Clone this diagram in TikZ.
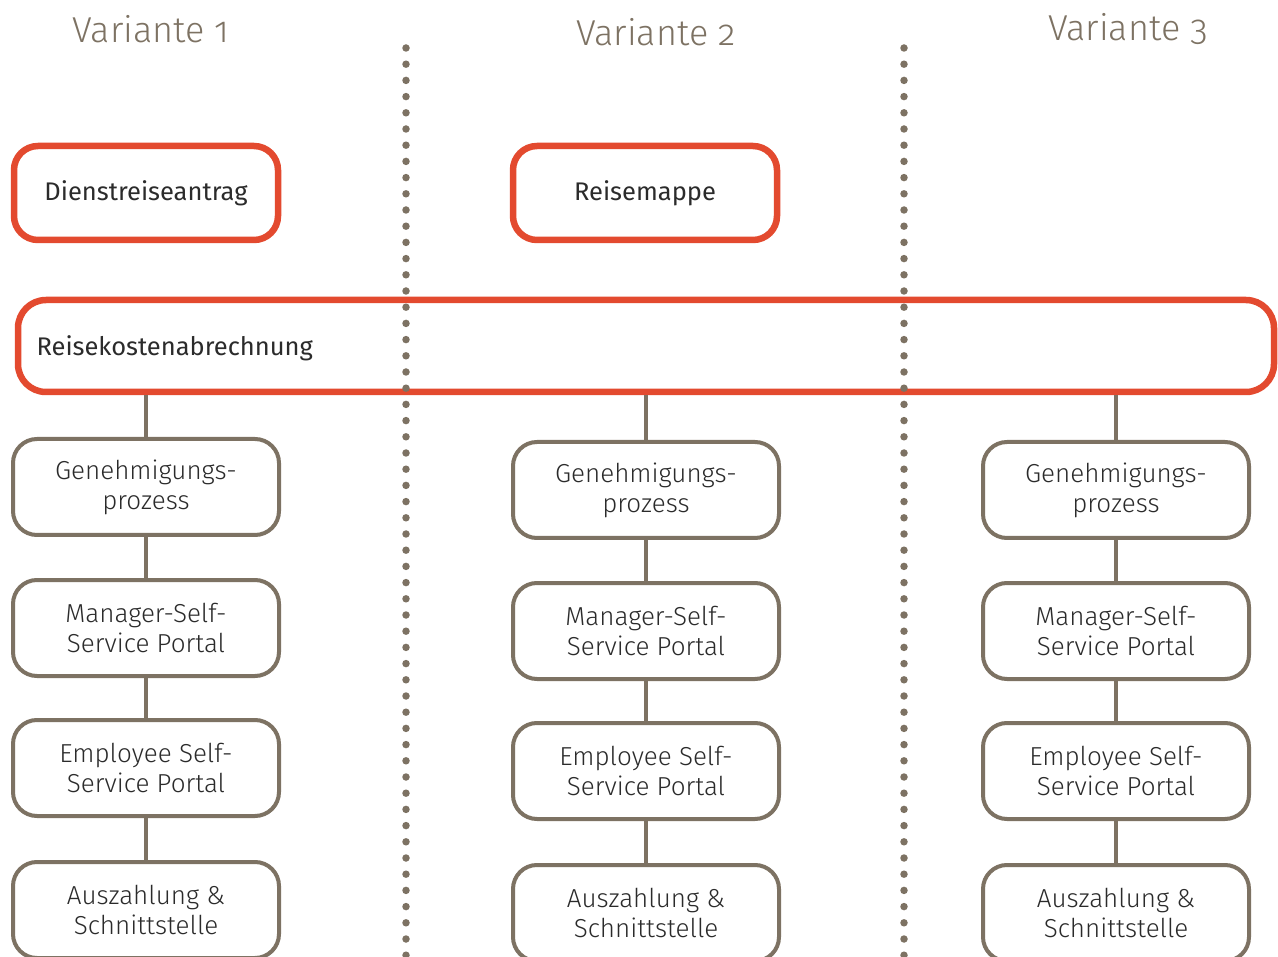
\documentclass[tikz,border=0pt]{standalone}
\usepackage{fontspec}
\setmainfont{Fira Sans}[Numbers=OldStyle]
\newfontfamily\lightfont{Fira Sans Light}[Numbers=OldStyle]
\definecolor{taupe}{HTML}{7D7263}
\definecolor{redb}{HTML}{E34A2F}
\definecolor{txt}{HTML}{2B2B2B}
\tikzset{
  head/.style={text=taupe, font=\fontsize{36}{40}\selectfont\lightfont},
  redbox/.style={draw=redb, line width=6.5pt, rounded corners=24pt, fill=white, text=txt, font=\fontsize{25.5}{28}\selectfont},
  graybox/.style={draw=taupe, line width=4pt, rounded corners=24pt, fill=white, text=txt, minimum width=266pt, minimum height=96pt, align=center, font=\fontsize{26}{30}\selectfont\lightfont},
  conn/.style={draw=taupe, line width=4pt},
  dots/.style={draw=taupe, line width=7.5pt, line cap=round, dash pattern=on 0pt off 16.2pt}
}
\begin{document}
\begin{tikzpicture}[x=1pt,y=-1pt]
\useasboundingbox (0,0) rectangle (1278,957);
\clip (0,0) rectangle (1278,957);
% headers
\node[head] (h1) at (151,29) {Variante 1};
\node[head] (h2) at (656,32) {Variante 2};
\node[head] (h3) at (1128,29) {Variante 3};
% top red boxes
\node[redbox, minimum width=264pt, minimum height=94pt] (dr) at (146,193) {Dienstreiseantrag};
\node[redbox, minimum width=264pt, minimum height=94pt] (rm) at (645,193) {Reisemappe};
% big box
\node[redbox, minimum width=1256pt, minimum height=92pt, rounded corners=28pt] (rk) at (646,346) {};
\node[text=txt, font=\fontsize{25.5}{28}\selectfont, anchor=west] (rkt) at (33,348) {Reisekostenabrechnung};
% columns
\foreach \c/\x/\dy in {a/146/0, b/646/3, c/1116/3}{
  \node[graybox] (g\c) at (\x,{487+\dy}) {Genehmigungs-\\prozess};
  \node[graybox] (m\c) at (\x,{628+\dy}) {Manager-Self-\\Service Portal};
  \node[graybox] (e\c) at (\x,{768+\dy}) {Employee Self-\\Service Portal};
  \node[graybox] (z\c) at (\x,{910+\dy}) {Auszahlung \&\\Schnittstelle};
  \draw[conn] (g\c.north |- rk.south) -- (g\c.north);
  \draw[conn] (g\c.south) -- (m\c.north);
  \draw[conn] (m\c.south) -- (e\c.north);
  \draw[conn] (e\c.south) -- (z\c.north);
}
% dotted separators
\coordinate (d1t) at (406,48);
\coordinate (d1b) at (406,960);
\coordinate (d2t) at (904,48);
\coordinate (d2b) at (904,960);
\draw[dots] (d1t) -- (d1b);
\draw[dots] (d2t) -- (d2b);
\end{tikzpicture}
\end{document}
